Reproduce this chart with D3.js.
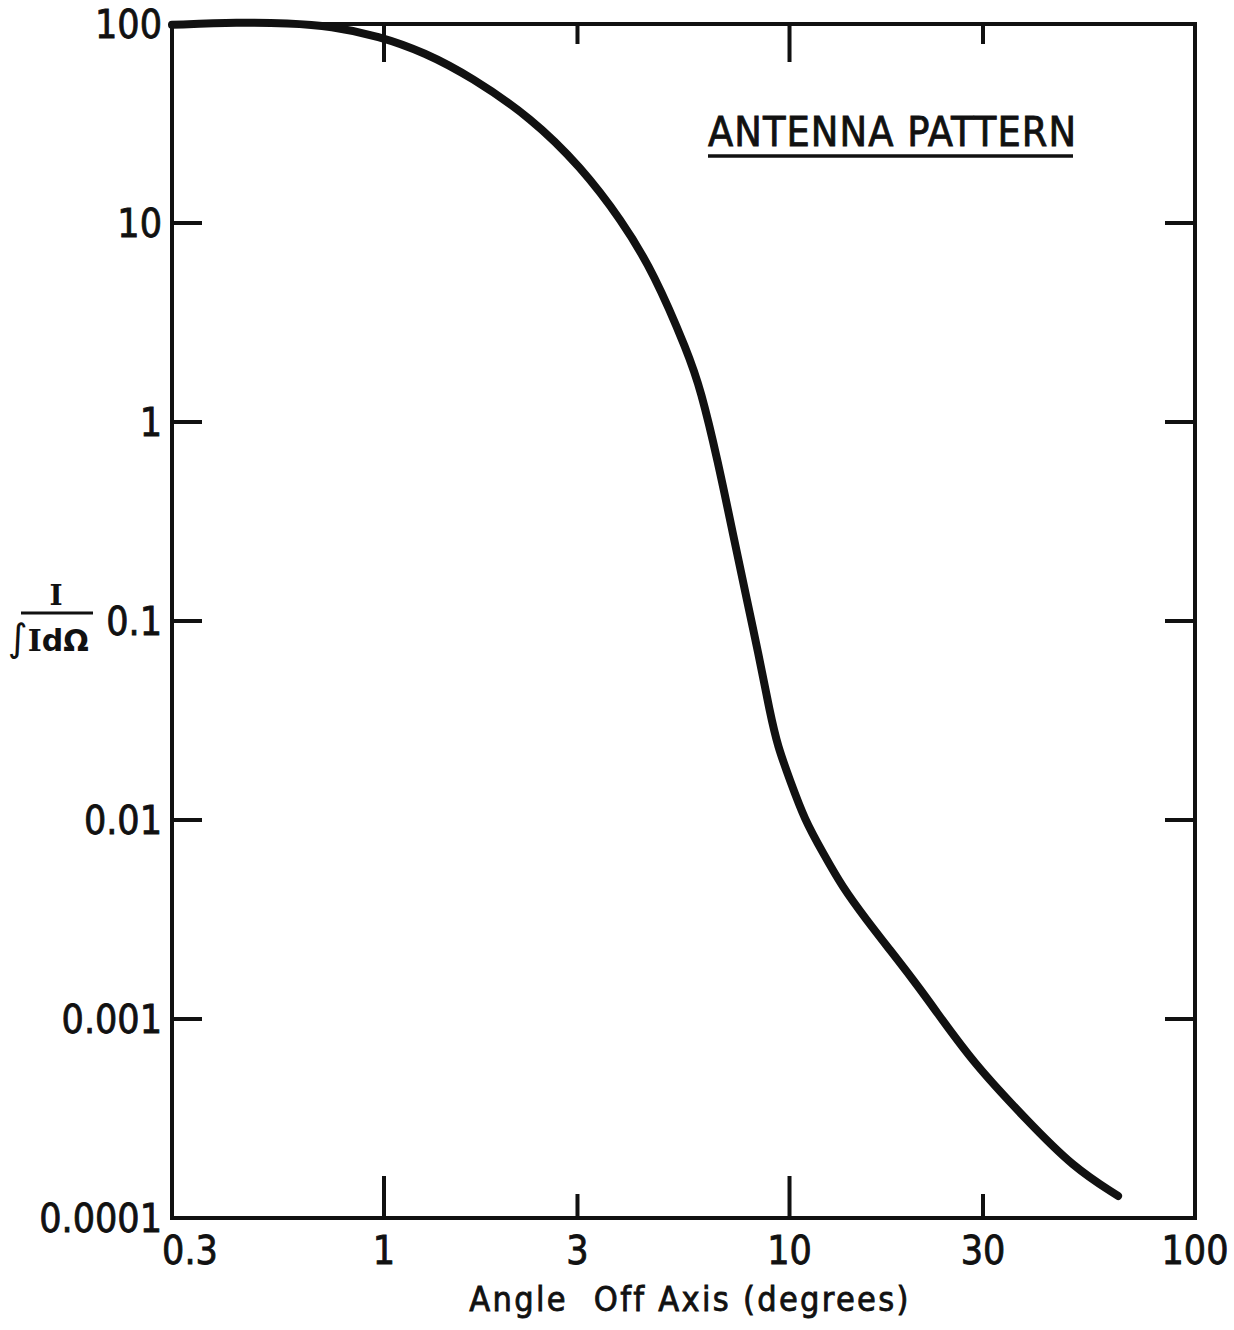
<!DOCTYPE html>
<html>
<head>
<meta charset="utf-8">
<script src="https://cdn.jsdelivr.net/npm/d3@7"></script>
<style>
  body { margin: 0; background: #fff; }
  svg { display: block; }
  .lbl { font-family: "DejaVu Sans Condensed", "Liberation Sans Narrow", "DejaVu Sans", sans-serif;
         fill: #111; stroke: #111; stroke-width: 0.8px; }
</style>
</head>
<body>
<div id="chart"></div>
<script>
// angle off axis (degrees) vs normalised intensity
const angle = [0.3, 0.44, 0.58, 0.74, 0.97, 1.26, 1.64, 2.31, 3.06, 3.85, 4.63, 5.62, 6.04,
               6.65, 7.28, 7.88, 8.35, 8.95, 9.36, 10.02, 10.9, 12.1, 13.5, 15.5, 17.7, 20.2,
               22.6, 28.4, 38.5, 50.0, 64.6];
const intensity = [99, 102, 101, 97.7, 87, 72, 54.2, 33.7, 19.1, 10.35, 5.61, 2.22, 1.45,
                   0.644, 0.264, 0.123, 0.0714, 0.0345, 0.0233, 0.0159, 0.0100, 0.00683, 0.0046,
                   0.00314, 0.00222, 0.00157, 0.00115, 0.0006, 0.00031, 0.00018, 0.000129];

const xTicks = [0.3, 1, 3, 10, 30, 100];
const xTickLabels = ["0.3", "1", "3", "10", "30", "100"];
const yTicks = [100, 10, 1, 0.1, 0.01, 0.001, 0.0001];
const yTickLabels = ["100", "10", "1", "0.1", "0.01", "0.001", "0.0001"];

const W = 1234, H = 1330;
const pL = 172, pR = 1195, pT = 24, pB = 1218;

const svg = d3.select("#chart").append("svg").attr("width", W).attr("height", H);

const x = d3.scaleLog().domain([0.3, 100]).range([pL, pR]);
const y = d3.scaleLog().domain([0.0001, 100]).range([pB, pT]);

// frame
svg.append("rect")
    .attr("x", pL).attr("y", pT)
    .attr("width", pR - pL).attr("height", pB - pT)
    .attr("fill", "none").attr("stroke", "#111").attr("stroke-width", 4);

// x ticks, top and bottom (decades longer)
const inner = xTicks.filter(d => d > 0.3 && d < 100);
function xLen(d) { return Math.abs(Math.log10(d) % 1) < 1e-6 ? 42 : 24; }
svg.append("g").selectAll("line").data(inner).join("line")
    .attr("x1", d => x(d)).attr("x2", d => x(d))
    .attr("y1", pB).attr("y2", d => pB - xLen(d))
    .attr("stroke", "#111").attr("stroke-width", 4);
svg.append("g").selectAll("line").data(inner).join("line")
    .attr("x1", d => x(d)).attr("x2", d => x(d))
    .attr("y1", pT).attr("y2", d => pT + xLen(d) - 4)
    .attr("stroke", "#111").attr("stroke-width", 4);

// y ticks, left and right
const yInner = yTicks.filter(d => d < 100 && d > 0.0001);
svg.append("g").selectAll("line").data(yInner).join("line")
    .attr("x1", pL).attr("x2", pL + 30)
    .attr("y1", d => y(d)).attr("y2", d => y(d))
    .attr("stroke", "#111").attr("stroke-width", 4);
svg.append("g").selectAll("line").data(yInner).join("line")
    .attr("x1", pR).attr("x2", pR - 30)
    .attr("y1", d => y(d)).attr("y2", d => y(d))
    .attr("stroke", "#111").attr("stroke-width", 4);

// tick labels
svg.append("g").selectAll("text").data(xTicks).join("text")
    .attr("class", "lbl")
    .attr("x", d => x(d)).attr("y", pB + 46)
    .attr("dx", (d, i) => i === 0 ? 18 : 0)
    .attr("text-anchor", "middle")
    .attr("font-size", 39)
    .text((d, i) => xTickLabels[i]);

svg.append("g").selectAll("text").data(yTicks).join("text")
    .attr("class", "lbl")
    .attr("x", pL - 10).attr("y", d => y(d) + 14)
    .attr("text-anchor", "end")
    .attr("font-size", 39)
    .text((d, i) => yTickLabels[i]);

// axis title
const xt = svg.append("text").attr("class", "lbl")
    .attr("x", 690).attr("y", 1311)
    .attr("text-anchor", "middle")
    .attr("font-size", 34)
    .attr("letter-spacing", 2.3);
xt.append("tspan").text("Angle");
xt.append("tspan").attr("dx", 14).text(" Off Axis (degrees)");

// y label as fraction
svg.append("text")
    .attr("x", 56).attr("y", 605)
    .attr("text-anchor", "middle")
    .attr("font-family", "DejaVu Serif, serif").attr("font-weight", "bold")
    .attr("font-size", 28).attr("fill", "#111")
    .text("I");
svg.append("line")
    .attr("x1", 21).attr("x2", 93).attr("y1", 613).attr("y2", 613)
    .attr("stroke", "#111").attr("stroke-width", 3);
const den = svg.append("text")
    .attr("x", 8).attr("y", 651)
    .attr("font-size", 30).attr("fill", "#111")
    .attr("font-family", "DejaVu Sans, sans-serif");
den.append("tspan").attr("font-size", 38).text("\u222B");
den.append("tspan").attr("font-family", "DejaVu Serif, serif").attr("font-weight", "bold").text("I");
den.append("tspan").attr("font-weight", "bold").text("d\u03A9");

// title
svg.append("text").attr("class", "lbl")
    .attr("x", 708).attr("y", 146)
    .attr("font-size", 41)
    .attr("textLength", 368)
    .text("ANTENNA PATTERN");
svg.append("line")
    .attr("x1", 708).attr("x2", 1073).attr("y1", 156).attr("y2", 156)
    .attr("stroke", "#111").attr("stroke-width", 3.5);

// curve
const pts = angle.map((a, i) => [a, intensity[i]]);
const line = d3.line()
    .x(d => x(d[0])).y(d => y(d[1]))
    .curve(d3.curveBasis);
svg.append("path")
    .datum(pts)
    .attr("d", line)
    .attr("fill", "none")
    .attr("stroke", "#111")
    .attr("stroke-width", 8)
    .attr("stroke-linecap", "round")
    .attr("stroke-linejoin", "round");
</script>
</body>
</html>
